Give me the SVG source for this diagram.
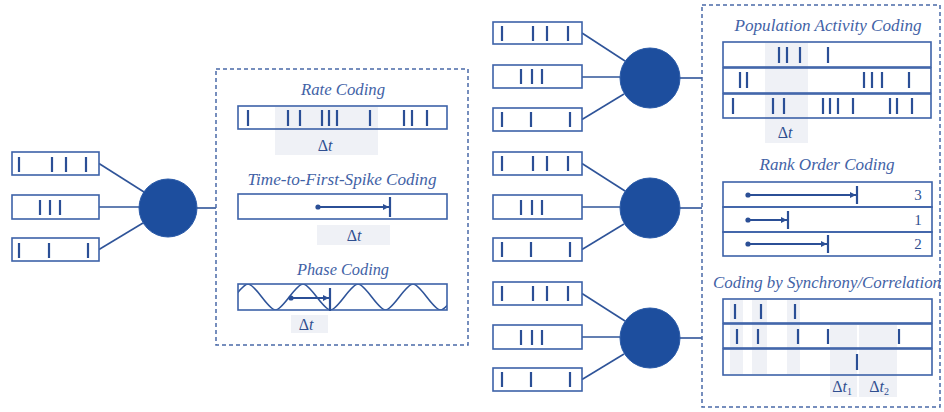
<svg xmlns="http://www.w3.org/2000/svg" width="944" height="412" viewBox="0 0 944 412">
<style>
.bx{fill:#fff;stroke:#3d62a8;stroke-width:1.6}
.ob{fill:none;stroke:#3d62a8;stroke-width:1.6}
.sp{stroke:#2b4f96;stroke-width:2.2}
.nr{fill:#1d4e9e;stroke:#2a5aa8;stroke-width:1}
.cn{stroke:#2f5499;stroke-width:1.6;fill:none}
.dash{fill:none;stroke:#4a6aa8;stroke-width:1.5;stroke-dasharray:4 3}
.sh{fill:#eff1f6}
.tt{font-family:"Liberation Serif",serif;font-style:italic;font-size:16px;fill:#4262a6;text-anchor:middle}
.dt{font-family:"Liberation Serif",serif;font-size:16px;fill:#2f4f90;text-anchor:middle}
.num{font-family:"Liberation Serif",serif;font-size:15px;fill:#2f4f90;text-anchor:middle}
.ar{stroke:#2b4f96;stroke-width:1.8;fill:none}
.dot{fill:#2b4f96}
</style>
<defs>
<marker id="ah" viewBox="0 0 10 10" refX="10" refY="5" markerWidth="8" markerHeight="6" markerUnits="userSpaceOnUse" orient="auto"><path d="M0,0 L10,5 L0,10 z" fill="#2b4f96"/></marker>
<clipPath id="wc"><rect x="238" y="284" width="209" height="26"/></clipPath>
</defs>

<!-- connectors -->
<g id="connectors">
<line class="cn" x1="99" y1="163.5" x2="144" y2="192"/>
<line class="cn" x1="99" y1="207" x2="140" y2="207"/>
<line class="cn" x1="99" y1="249.5" x2="143" y2="223"/>
<line class="cn" x1="197" y1="208" x2="216" y2="208"/>

<line class="cn" x1="582" y1="33" x2="625" y2="61"/>
<line class="cn" x1="582" y1="77" x2="620" y2="77"/>
<line class="cn" x1="582" y1="119.5" x2="624" y2="94"/>
<line class="cn" x1="680" y1="78" x2="702" y2="78"/>

<line class="cn" x1="582" y1="163.5" x2="625" y2="191"/>
<line class="cn" x1="582" y1="207" x2="620" y2="207"/>
<line class="cn" x1="582" y1="249.5" x2="624" y2="224"/>
<line class="cn" x1="680" y1="208" x2="702" y2="208"/>

<line class="cn" x1="582" y1="293.5" x2="625" y2="321"/>
<line class="cn" x1="582" y1="337" x2="620" y2="337"/>
<line class="cn" x1="582" y1="379.5" x2="624" y2="354"/>
<line class="cn" x1="680" y1="338" x2="702" y2="338"/>
</g>

<!-- left neuron -->
<g id="left-inputs">
<rect class="bx" x="12" y="152" width="87" height="23"/>
<line class="sp" x1="19" y1="157" x2="19" y2="172"/><line class="sp" x1="52" y1="157" x2="52" y2="172"/><line class="sp" x1="66" y1="157" x2="66" y2="172"/><line class="sp" x1="86" y1="157" x2="86" y2="172"/>
<rect class="bx" x="12" y="195" width="87" height="24"/>
<line class="sp" x1="40" y1="200" x2="40" y2="215"/><line class="sp" x1="50" y1="200" x2="50" y2="215"/><line class="sp" x1="60" y1="200" x2="60" y2="215"/>
<rect class="bx" x="12" y="238" width="87" height="23"/>
<line class="sp" x1="19" y1="243" x2="19" y2="258"/><line class="sp" x1="49" y1="243" x2="49" y2="258"/><line class="sp" x1="88" y1="243" x2="88" y2="258"/>
</g>
<g id="left-neuron"><circle class="nr" cx="168" cy="208" r="29"/></g>

<!-- temporal coding panel -->
<g id="temporal-panel">
<rect class="dash" x="216" y="69" width="252" height="276"/>
<text class="tt" x="343" y="95" textLength="84" lengthAdjust="spacingAndGlyphs">Rate Coding</text>
<rect class="sh" x="275" y="107" width="103" height="48"/>
<rect class="ob" x="238" y="106" width="209" height="23"/>
<g>
<line class="sp" x1="248" y1="110" x2="248" y2="126"/><line class="sp" x1="288" y1="110" x2="288" y2="126"/><line class="sp" x1="300" y1="110" x2="300" y2="126"/><line class="sp" x1="322" y1="110" x2="322" y2="126"/><line class="sp" x1="329" y1="110" x2="329" y2="126"/><line class="sp" x1="337" y1="110" x2="337" y2="126"/><line class="sp" x1="370" y1="110" x2="370" y2="126"/><line class="sp" x1="404" y1="110" x2="404" y2="126"/><line class="sp" x1="412" y1="110" x2="412" y2="126"/><line class="sp" x1="427" y1="110" x2="427" y2="126"/>
</g>
<text class="dt" x="325" y="151">Δ<tspan font-style="italic">t</tspan></text>

<text class="tt" x="342" y="185" textLength="189" lengthAdjust="spacingAndGlyphs">Time-to-First-Spike Coding</text>
<rect class="ob" x="238" y="194" width="209" height="25"/>
<circle class="dot" cx="318" cy="207" r="2.6"/>
<line class="ar" x1="318" y1="207" x2="389" y2="207" marker-end="url(#ah)"/>
<line class="sp" x1="390" y1="197" x2="390" y2="217"/>
<rect class="sh" x="317" y="225" width="73" height="20"/>
<text class="dt" x="354" y="241">Δ<tspan font-style="italic">t</tspan></text>

<text class="tt" x="343" y="275" textLength="92" lengthAdjust="spacingAndGlyphs">Phase Coding</text>
<path class="cn" clip-path="url(#wc)" d="M220.5 310 C228 310 240.5 284 248 284 S268 310 275.5 310 S295.5 284 303 284 S323 310 330.5 310 S350.5 284 358 284 S378 310 385.5 310 S405.5 284 413 284 S433 310 440.5 310 S460.5 284 468 284"/>
<rect class="ob" x="238" y="284" width="209" height="26"/>
<circle class="dot" cx="291" cy="298" r="2.6"/>
<line class="ar" x1="291" y1="298" x2="329" y2="298" marker-end="url(#ah)"/>
<line class="sp" x1="330" y1="288" x2="330" y2="311"/>
<rect class="sh" x="291" y="315" width="37" height="18"/>
<text class="dt" x="306" y="330">Δ<tspan font-style="italic">t</tspan></text>
</g>

<!-- right neuron 1 -->
<g id="r1-inputs">
<rect class="bx" x="493" y="22" width="89" height="22"/>
<line class="sp" x1="502" y1="26" x2="502" y2="41"/><line class="sp" x1="533" y1="26" x2="533" y2="41"/><line class="sp" x1="547" y1="26" x2="547" y2="41"/><line class="sp" x1="568" y1="26" x2="568" y2="41"/>
<rect class="bx" x="493" y="65" width="89" height="23"/>
<line class="sp" x1="521" y1="69" x2="521" y2="84"/><line class="sp" x1="532" y1="69" x2="532" y2="84"/><line class="sp" x1="542" y1="69" x2="542" y2="84"/>
<rect class="bx" x="493" y="108" width="89" height="23"/>
<line class="sp" x1="502" y1="112" x2="502" y2="127"/><line class="sp" x1="531" y1="112" x2="531" y2="127"/><line class="sp" x1="570" y1="112" x2="570" y2="127"/>
</g>
<g id="r1-neuron"><circle class="nr" cx="650" cy="78" r="30"/></g>

<!-- right neuron 2 -->
<g id="r2-inputs">
<rect class="bx" x="493" y="152" width="89" height="23"/>
<line class="sp" x1="502" y1="156" x2="502" y2="171"/><line class="sp" x1="533" y1="156" x2="533" y2="171"/><line class="sp" x1="547" y1="156" x2="547" y2="171"/><line class="sp" x1="568" y1="156" x2="568" y2="171"/>
<rect class="bx" x="493" y="195" width="89" height="24"/>
<line class="sp" x1="521" y1="200" x2="521" y2="215"/><line class="sp" x1="532" y1="200" x2="532" y2="215"/><line class="sp" x1="542" y1="200" x2="542" y2="215"/>
<rect class="bx" x="493" y="238" width="89" height="23"/>
<line class="sp" x1="502" y1="242" x2="502" y2="257"/><line class="sp" x1="531" y1="242" x2="531" y2="257"/><line class="sp" x1="570" y1="242" x2="570" y2="257"/>
</g>
<g id="r2-neuron"><circle class="nr" cx="650" cy="208" r="30"/></g>

<!-- right neuron 3 -->
<g id="r3-inputs">
<rect class="bx" x="493" y="282" width="89" height="23"/>
<line class="sp" x1="502" y1="286" x2="502" y2="301"/><line class="sp" x1="533" y1="286" x2="533" y2="301"/><line class="sp" x1="547" y1="286" x2="547" y2="301"/><line class="sp" x1="568" y1="286" x2="568" y2="301"/>
<rect class="bx" x="493" y="325" width="89" height="24"/>
<line class="sp" x1="521" y1="330" x2="521" y2="345"/><line class="sp" x1="532" y1="330" x2="532" y2="345"/><line class="sp" x1="542" y1="330" x2="542" y2="345"/>
<rect class="bx" x="493" y="368" width="89" height="23"/>
<line class="sp" x1="502" y1="372" x2="502" y2="387"/><line class="sp" x1="531" y1="372" x2="531" y2="387"/><line class="sp" x1="570" y1="372" x2="570" y2="387"/>
</g>
<g id="r3-neuron"><circle class="nr" cx="650" cy="338" r="30"/></g>

<!-- population coding panel -->
<g id="population-panel">
<rect class="dash" x="702" y="5" width="238" height="402"/>

<text class="tt" x="828" y="31" textLength="187" lengthAdjust="spacingAndGlyphs">Population Activity Coding</text>
<rect class="sh" x="765" y="43" width="43" height="100"/>
<rect class="ob" x="723" y="42" width="208" height="25"/>
<rect class="ob" x="723" y="68" width="208" height="25"/>
<rect class="ob" x="723" y="94" width="208" height="24"/>
<g>
<line class="sp" x1="779" y1="47" x2="779" y2="63"/><line class="sp" x1="787" y1="47" x2="787" y2="63"/><line class="sp" x1="800" y1="47" x2="800" y2="63"/><line class="sp" x1="828" y1="47" x2="828" y2="63"/>
<line class="sp" x1="740" y1="72" x2="740" y2="88"/><line class="sp" x1="747" y1="72" x2="747" y2="88"/><line class="sp" x1="864" y1="72" x2="864" y2="88"/><line class="sp" x1="872" y1="72" x2="872" y2="88"/><line class="sp" x1="882" y1="72" x2="882" y2="88"/><line class="sp" x1="909" y1="72" x2="909" y2="88"/>
<line class="sp" x1="733" y1="98" x2="733" y2="114"/><line class="sp" x1="773" y1="98" x2="773" y2="114"/><line class="sp" x1="784" y1="98" x2="784" y2="114"/><line class="sp" x1="823" y1="98" x2="823" y2="114"/><line class="sp" x1="830" y1="98" x2="830" y2="114"/><line class="sp" x1="838" y1="98" x2="838" y2="114"/><line class="sp" x1="853" y1="98" x2="853" y2="114"/><line class="sp" x1="890" y1="98" x2="890" y2="114"/><line class="sp" x1="897" y1="98" x2="897" y2="114"/><line class="sp" x1="912" y1="98" x2="912" y2="114"/>
</g>
<text class="dt" x="785" y="138">Δ<tspan font-style="italic">t</tspan></text>

<text class="tt" x="827" y="170" textLength="135" lengthAdjust="spacingAndGlyphs">Rank Order Coding</text>
<rect class="ob" x="723" y="182" width="209" height="25"/>
<rect class="ob" x="723" y="207" width="209" height="25"/>
<rect class="ob" x="723" y="232" width="209" height="24"/>
<circle class="dot" cx="748" cy="195" r="2.6"/>
<line class="ar" x1="748" y1="195" x2="856" y2="195" marker-end="url(#ah)"/>
<line class="sp" x1="857" y1="186" x2="857" y2="204"/>
<text class="num" x="918" y="200">3</text>
<circle class="dot" cx="748" cy="220" r="2.6"/>
<line class="ar" x1="748" y1="220" x2="787" y2="220" marker-end="url(#ah)"/>
<line class="sp" x1="788" y1="211" x2="788" y2="229"/>
<text class="num" x="918" y="225">1</text>
<circle class="dot" cx="748" cy="244" r="2.6"/>
<line class="ar" x1="748" y1="244" x2="827" y2="244" marker-end="url(#ah)"/>
<line class="sp" x1="828" y1="235" x2="828" y2="253"/>
<text class="num" x="918" y="249">2</text>

<text class="tt" x="827" y="288" textLength="228" lengthAdjust="spacingAndGlyphs">Coding by Synchrony/Correlation</text>
<rect class="sh" x="730" y="300" width="13" height="74"/>
<rect class="sh" x="752" y="300" width="15" height="74"/>
<rect class="sh" x="787" y="300" width="13" height="74"/>
<rect class="sh" x="830" y="325" width="27" height="72"/>
<rect class="sh" x="859" y="325" width="38" height="72"/>
<rect class="ob" x="723" y="299" width="209" height="24"/>
<rect class="ob" x="723" y="324" width="209" height="24"/>
<rect class="ob" x="723" y="349" width="209" height="26"/>
<g>
<line class="sp" x1="735" y1="304" x2="735" y2="319"/><line class="sp" x1="761" y1="304" x2="761" y2="319"/><line class="sp" x1="795" y1="304" x2="795" y2="319"/>
<line class="sp" x1="737" y1="329" x2="737" y2="344"/><line class="sp" x1="758" y1="329" x2="758" y2="344"/><line class="sp" x1="798" y1="329" x2="798" y2="344"/><line class="sp" x1="828" y1="329" x2="828" y2="344"/><line class="sp" x1="899" y1="329" x2="899" y2="344"/>
<line class="sp" x1="857" y1="354" x2="857" y2="370"/>
</g>
<text class="dt" x="842" y="392">Δ<tspan font-style="italic">t</tspan><tspan font-size="10" dy="3">1</tspan></text>
<text class="dt" x="879" y="392">Δ<tspan font-style="italic">t</tspan><tspan font-size="10" dy="3">2</tspan></text>
</g>
</svg>
